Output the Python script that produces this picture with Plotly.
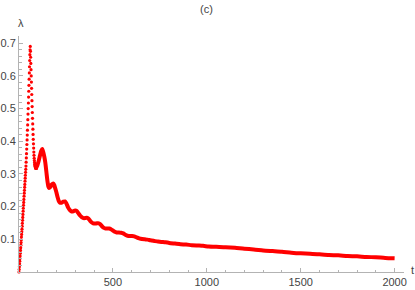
import plotly.graph_objects as go

# Early phase (discrete sample points)
t_early = list(range(0, 97))
lam_early = [
    0.000, 0.008, 0.016, 0.025, 0.033, 0.041, 0.049, 0.057, 0.066, 0.074,
    0.082, 0.090, 0.098, 0.107, 0.115, 0.123, 0.131, 0.140, 0.149, 0.158,
    0.167, 0.176, 0.186, 0.195, 0.204, 0.213, 0.222, 0.232, 0.241, 0.250,
    0.259, 0.268, 0.278, 0.287, 0.296, 0.305, 0.314, 0.324, 0.336, 0.349,
    0.362, 0.376, 0.390, 0.404, 0.419, 0.434, 0.450, 0.466, 0.483, 0.500,
    0.517, 0.535, 0.553, 0.571, 0.590, 0.609, 0.628, 0.647, 0.665, 0.680,
    0.690, 0.675, 0.657, 0.638, 0.619, 0.600, 0.581, 0.562, 0.543, 0.524,
    0.506, 0.488, 0.470, 0.453, 0.437, 0.421, 0.406, 0.392, 0.379, 0.367,
    0.357, 0.348, 0.341, 0.335, 0.330, 0.326, 0.323, 0.321, 0.319, 0.318,
    0.317, 0.317, 0.317, 0.318, 0.319, 0.321, 0.323,
]

# Later phase (dense, appears as a thick curve)
t_late = [
    96, 104, 112, 118, 124, 130, 135, 140, 147, 152, 156, 160, 167, 175, 182,
    188, 193, 199, 206, 212, 218, 227, 236, 245, 253, 262, 271, 280, 290, 299,
    307, 316, 325, 334, 343, 352, 360, 368, 377, 386, 395, 405, 415, 425, 433,
    442, 452, 461, 471, 480, 490, 500, 510, 520, 532, 544, 555, 566, 578, 590,
    602, 614, 626, 640, 655, 670, 685, 700, 720, 740, 760, 780, 800, 830, 860,
    890, 920, 950, 980, 1010, 1050, 1100, 1150, 1200, 1250, 1300, 1350, 1400,
    1450, 1500, 1550, 1600, 1650, 1700, 1750, 1800, 1850, 1900, 1950, 2000,
]
lam_late = [
    0.323, 0.338, 0.357, 0.370, 0.376, 0.365, 0.352, 0.335, 0.300, 0.276,
    0.262, 0.257, 0.260, 0.268, 0.271, 0.266, 0.256, 0.244, 0.228, 0.217,
    0.212, 0.212, 0.215, 0.216, 0.209, 0.197, 0.189, 0.185, 0.186, 0.188,
    0.187, 0.180, 0.173, 0.168, 0.165, 0.165, 0.166, 0.164, 0.158, 0.152,
    0.149, 0.148, 0.149, 0.149, 0.146, 0.140, 0.135, 0.133, 0.133, 0.133,
    0.131, 0.127, 0.123, 0.121, 0.121, 0.120, 0.118, 0.114, 0.111, 0.110,
    0.110, 0.109, 0.106, 0.103, 0.101, 0.100, 0.099, 0.097, 0.095, 0.093,
    0.092, 0.091, 0.089, 0.087, 0.085, 0.084, 0.082, 0.081, 0.080, 0.078,
    0.077, 0.076, 0.074, 0.071, 0.069, 0.066, 0.064, 0.062, 0.059, 0.057,
    0.056, 0.054, 0.052, 0.051, 0.049, 0.048, 0.046, 0.045, 0.043, 0.042,
]

x_ticks = [500, 1000, 1500, 2000]
x_tick_labels = ["500", "1000", "1500", "2000"]
y_ticks = [0.1, 0.2, 0.3, 0.4, 0.5, 0.6, 0.7]
y_tick_labels = ["0.1", "0.2", "0.3", "0.4", "0.5", "0.6", "0.7"]

RED = "#ff0000"
AXIS = "#b3b3b3"
TXT = "#444444"
FONT = "Liberation Sans"

fig = go.Figure()
fig.add_trace(go.Scatter(
    x=t_late, y=lam_late, mode="lines",
    line=dict(color=RED, width=4, shape="spline", smoothing=0.6),
    cliponaxis=False, hoverinfo="skip",
))
fig.add_trace(go.Scatter(
    x=t_early, y=lam_early, mode="markers",
    marker=dict(color=RED, size=3.2, line=dict(width=0)),
    cliponaxis=False, hoverinfo="skip",
))

fig.update_layout(
    width=415, height=290,
    margin=dict(l=19, r=11, t=36, b=18, autoexpand=False),
    paper_bgcolor="white", plot_bgcolor="white",
    showlegend=False,
    font=dict(family=FONT, size=11, color=TXT),
    xaxis=dict(
        range=[0, 2050], showgrid=False, zeroline=False, automargin=False,
        showline=True, linecolor=AXIS, linewidth=1,
        tickvals=x_ticks, ticktext=x_tick_labels,
        ticks="inside", ticklen=4, tickcolor=AXIS, tickwidth=1,
        minor=dict(dtick=100, tick0=0, ticks="inside", ticklen=2.5,
                   tickcolor=AXIS, showgrid=False),
        tickfont=dict(size=11, color=TXT, family=FONT),
    ),
    yaxis=dict(
        range=[0, 0.722], showgrid=False, zeroline=False, automargin=False,
        showline=True, linecolor=AXIS, linewidth=1,
        tickvals=y_ticks, ticktext=y_tick_labels,
        ticks="inside", ticklen=4, tickcolor=AXIS, tickwidth=1,
        minor=dict(dtick=0.02, tick0=0, ticks="inside", ticklen=2.5,
                   tickcolor=AXIS, showgrid=False),
        tickfont=dict(size=11, color=TXT, family=FONT),
    ),
    annotations=[
        dict(text="(c)", xref="paper", yref="paper", x=0.488, y=1.114,
             xanchor="center", yanchor="middle",
             showarrow=False, font=dict(size=11, color=TXT)),
        dict(text="λ", xref="paper", yref="paper", x=0.005, y=1.055,
             xanchor="center", yanchor="middle",
             showarrow=False, font=dict(size=11, color=TXT)),
        dict(text="t", xref="paper", yref="paper", x=1.023, y=0.008,
             xanchor="center", yanchor="middle",
             showarrow=False, font=dict(size=11, color=TXT)),
    ],
)

fig.write_html(
    "out.html",
    config={"displayModeBar": False, "staticPlot": True},
    post_script="document.body.style.margin='0px';document.body.style.overflow='hidden';",
)
